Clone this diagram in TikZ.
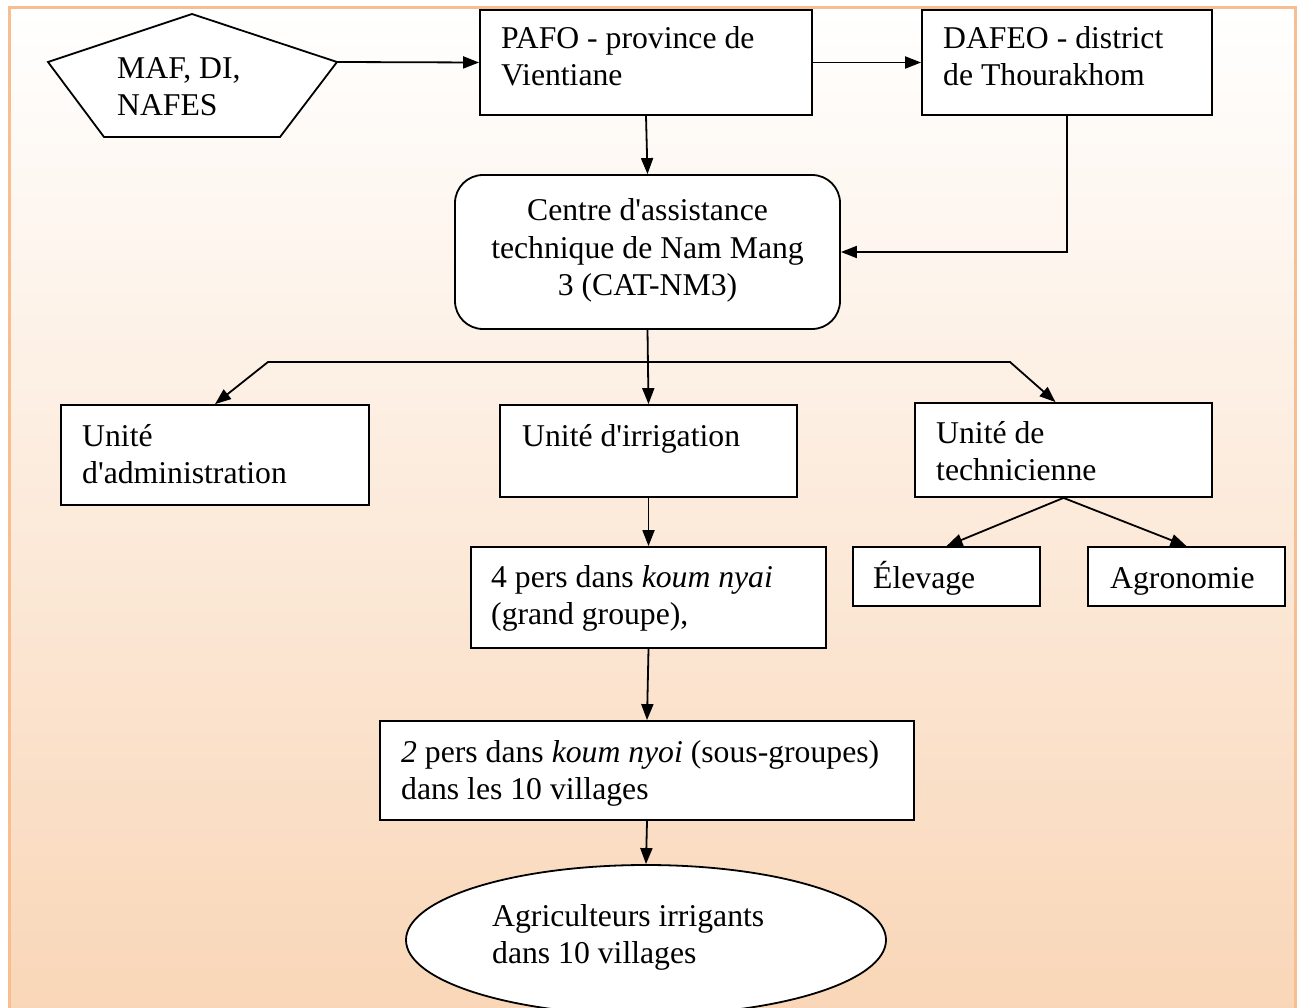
\documentclass[tikz,border=0pt]{standalone}
\usepackage{fontspec}
\setmainfont{Liberation Serif}
\usetikzlibrary{arrows.meta,shapes.geometric,calc}
\definecolor{peach}{RGB}{249,214,183}
\definecolor{frameor}{RGB}{247,190,145}
\newcommand{\ap}{\textquotesingle}
\begin{document}
\begin{tikzpicture}[x=1pt,y=-1pt,
  box/.style={draw,line width=1.8pt,fill=white,inner sep=0pt},
  txt/.style={font=\fontsize{31.7}{37}\selectfont,inner sep=0pt,align=left,anchor=base west},
  ctxt/.style={font=\fontsize{31.7}{37}\selectfont,inner sep=0pt,align=center,anchor=base},
  tipa/.tip={Triangle[length=16pt,width=12pt]},
  arr/.style={line width=1.8pt,-tipa},
  arrboth/.style={line width=1.8pt,tipa-tipa}]
\useasboundingbox (0,0) rectangle (1303,1008);
\clip (0,0) rectangle (1303,1008);
% background
\shade[top color=white,bottom color=peach] (9,8) rectangle (1295,1015);
\draw[frameor,line width=3pt] (9,8) rectangle (1295,1015);

% pentagon
\draw[line width=1.8pt,fill=white] (48,62) -- (192,14) -- (337,62) -- (280,137) -- (104,137) -- cycle;
\coordinate (mafR) at (337,62);

% boxes
\node[box,minimum width=332pt,minimum height=105pt] (pafo) at (646,62.5) {};
\node[box,minimum width=290pt,minimum height=105pt] (dafeo) at (1067,62.5) {};
\node[box,rounded corners=28pt,minimum width=385pt,minimum height=154pt] (centre) at (647.5,252) {};
\node[box,minimum width=308pt,minimum height=100pt] (adm) at (215,455) {};
\node[box,minimum width=297pt,minimum height=92pt] (irr) at (648.5,451) {};
\node[box,minimum width=297pt,minimum height=94pt] (tech) at (1063.5,450) {};
\node[box,minimum width=187pt,minimum height=59pt] (elev) at (946.5,576.5) {};
\node[box,minimum width=197pt,minimum height=59pt] (agro) at (1186.5,576.5) {};
\node[box,minimum width=355pt,minimum height=101pt] (quatre) at (648.5,597.5) {};
\node[box,minimum width=534pt,minimum height=99pt] (deux) at (647,770.5) {};
\node[box,ellipse,minimum width=480pt,minimum height=150pt] (agri) at (646,940) {};

% connectors
\draw[arr] (mafR) -- (pafo.west);
\draw[arr] (pafo.east) -- (dafeo.west);
\draw[arr] (pafo.south) -- (centre.north);
\draw[arr] (dafeo.south) |- (centre.east);
\draw[arr] (centre.south) -- (irr.north);
\draw[arrboth] (adm.north) -- (268,362) -- (1010,362) -- ([xshift=-8pt]tech.north);
\draw[arr] (tech.south) -- (elev.north);
\draw[arr] (tech.south) -- (agro.north);
\draw[arr] (irr.south) -- (quatre.north);
\draw[arr] (quatre.south) -- (deux.north);
\draw[arr] (deux.south) -- (agri.north);

% texts (base anchor = baseline of last line)
\node[txt] (maftxt) at (117,116) {MAF, DI,\\NAFES};
\node[txt] (pafotxt) at (501,86) {PAFO - province de\\Vientiane};
\node[txt] (dafeotxt) at (943,86) {DAFEO - district\\de Thourakhom};
\node[ctxt] (centretxt) at (647.5,295) {Centre d\ap assistance\\technique de Nam Mang\\3 (CAT-NM3)};
\node[txt] (admtxt) at (82,483) {Unité\\d\ap administration};
\node[txt] (irrtxt) at (522,446) {Unité d\ap irrigation};
\node[txt] (techtxt) at (936,480) {Unité de\\technicienne};
\node[txt] (elevtxt) at (873,588) {Élevage};
\node[txt] (agrotxt) at (1110,588) {Agronomie};
\node[txt] (quatretxt) at (491,624) {4 pers dans \textit{koum nyai}\\(grand groupe),};
\node[txt] (deuxtxt) at (401,799) {\textit{2} pers dans \textit{koum nyoi} (sous-groupes)\\dans les 10 villages};
\node[txt] (agritxt) at (492,963) {Agriculteurs irrigants\\dans 10 villages};
\end{tikzpicture}
\end{document}
